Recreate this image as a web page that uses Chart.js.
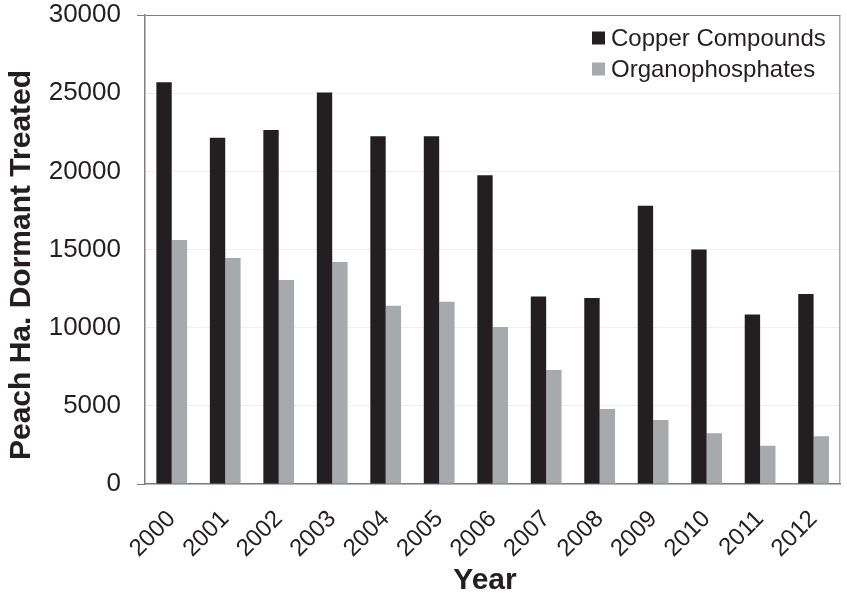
<!DOCTYPE html>
<html>
<head>
<meta charset="utf-8">
<script src="https://cdn.jsdelivr.net/npm/chart.js@4"></script>
<style>
  html, body { margin: 0; padding: 0; background: #fff; }
  #wrap { width: 847px; height: 597px; }
</style>
</head>
<body>
<div id="wrap"><canvas id="myChart"></canvas></div>
<script>
const years = ['2000', '2001', '2002', '2003', '2004', '2005', '2006', '2007', '2008', '2009', '2010', '2011', '2012'];
const copper = [25700, 22150, 22650, 25050, 22250, 22250, 19750, 12000, 11900, 17800, 15000, 10850, 12150];
const organo = [15600, 14450, 13050, 14200, 11400, 11650, 10050, 7300, 4800, 4100, 3250, 2450, 3050];
const yTicks = [0, 5000, 10000, 15000, 20000, 25000, 30000];
const xTitle = 'Year';
const yTitle = 'Peach Ha. Dormant Treated';

const ink = '#231f20';
const grey = '#a7a9ac';
const fam = '"Liberation Sans", Arial, sans-serif';

// legend inside the plot, top right
const insideLegend = {
    id: 'insideLegend',
    afterDraw(chart) {
        const c = chart.ctx;
        const items = chart.data.datasets;
        c.save();
        c.font = '24px ' + fam;
        c.textBaseline = 'middle';
        items.forEach((ds, i) => {
            const y = 38 + i * 31;
            c.fillStyle = ds.backgroundColor;
            c.fillRect(592, y - 6.5, 13, 13);
            c.fillStyle = ink;
            c.fillText(ds.label, 611, y + 1);
        });
        c.restore();
    }
};

// right border of the plot box + axis titles (placed like the original, a bit off centre)
const extras = {
    id: 'extras',
    afterDraw(chart) {
        const a = chart.chartArea;
        const c = chart.ctx;
        c.save();
        c.strokeStyle = '#7f7f7f';
        c.lineWidth = 1;
        c.beginPath();
        c.moveTo(a.right - 0.5, a.top);
        c.lineTo(a.right - 0.5, a.bottom);
        c.stroke();

        c.fillStyle = ink;
        c.font = 'bold 30px ' + fam;
        c.textAlign = 'center';
        c.textBaseline = 'middle';
        c.fillText(xTitle, 485, 581);
        c.translate(22, 265);
        c.rotate(-Math.PI / 2);
        c.fillText(yTitle, 0, 0);
        c.restore();
    }
};

new Chart(document.getElementById('myChart'), {
    type: 'bar',
    data: {
        labels: years,
        datasets: [{
            label: 'Copper Compounds',
            data: copper,
            backgroundColor: ink,
            categoryPercentage: 0.575,
            barPercentage: 1
        }, {
            label: 'Organophosphates',
            data: organo,
            backgroundColor: grey,
            categoryPercentage: 0.575,
            barPercentage: 1
        }]
    },
    options: {
        responsive: true,
        maintainAspectRatio: false,
        animation: false,
        layout: { padding: { left: 3, top: 0, right: 1, bottom: 0 } },
        plugins: {
            legend: { display: false },
            tooltip: { enabled: false }
        },
        scales: {
            x: {
                grid: { display: false },
                border: { color: '#7f7f7f', width: 1.5 },
                ticks: {
                    color: ink,
                    font: { family: fam, size: 24 },
                    maxRotation: 45,
                    minRotation: 45,
                    padding: 13
                },
                afterFit(scale) { scale.height = 113; }
            },
            y: {
                min: 0,
                max: 30000,
                afterBuildTicks(scale) { scale.ticks = yTicks.map(v => ({ value: v })); },
                grid: {
                    color: ctx => (ctx.tick && (ctx.tick.value === 30000)) ? '#7f7f7f' : '#efefef',
                    tickColor: ctx => (ctx.tick && (ctx.tick.value === 30000 || ctx.tick.value === 0)) ? '#7f7f7f' : 'rgba(0,0,0,0)',
                    tickLength: 8,
                    lineWidth: 1
                },
                border: { color: '#7f7f7f', width: 1.5 },
                ticks: {
                    color: ink,
                    font: { family: fam, size: 26 },
                    padding: 16,
                    callback: v => String(v)
                },
                afterFit(scale) {
                    scale.width = 142;
                    scale.paddingTop = 15;
                    scale.paddingBottom = 0;
                }
            }
        }
    },
    plugins: [insideLegend, extras]
});
</script>
</body>
</html>
